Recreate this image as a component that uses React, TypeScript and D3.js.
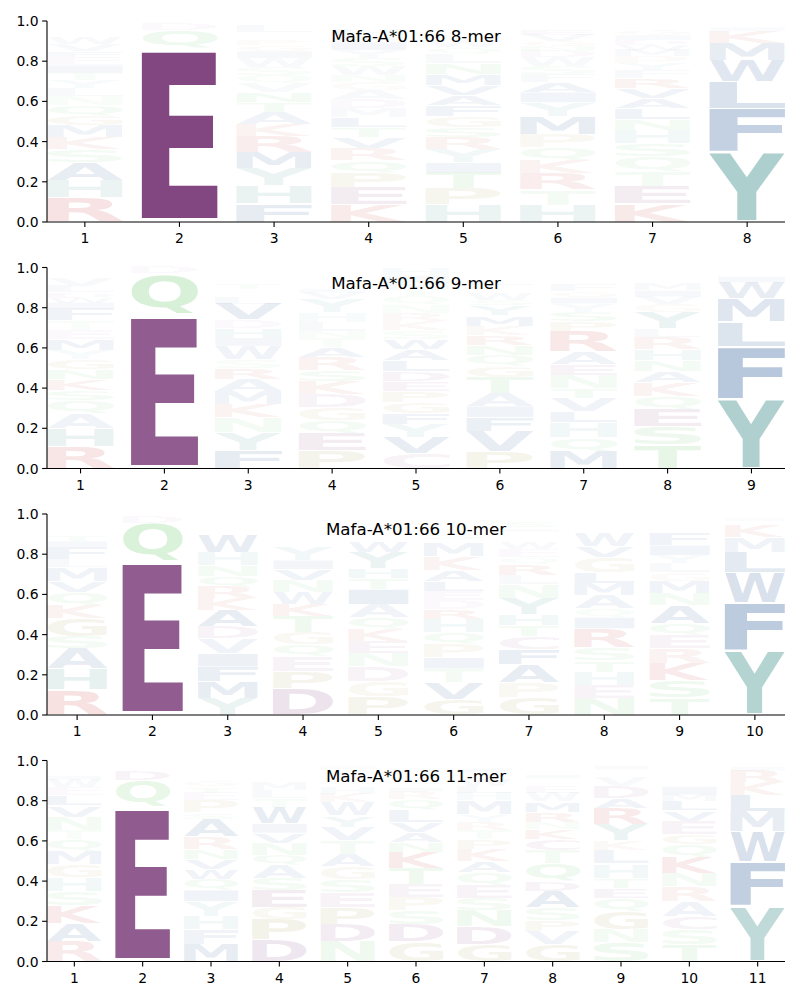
import React, { useMemo } from 'react';
import * as d3 from 'd3';

type Col = [string, number][];

// Each column lists letters bottom-to-top with their probability (height)
const mer8: Col[] = [
  [['R', .12], ['H', .085], ['A', .09], ['S', .065], ['K', .06], ['M', .06], ['G', .05], ['Q', .05], ['N', .045], ['L', .04], ['Y', .04], ['T', .035], ['I', .04], ['E', .04], ['F', .03], ['V', .035], ['W', .03], ['D', .02], ['C', .02], ['P', .02]],
  [['E', .865], ['Q', .09], ['D', .03], ['N', .005], ['S', .005], ['G', .005]],
  [['F', .09], ['H', .09], ['Y', .085], ['M', .08], ['R', .08], ['K', .06], ['A', .06], ['T', .05], ['N', .05], ['V', .045], ['Q', .04], ['S', .04], ['W', .045], ['I', .035], ['G', .03], ['P', .03], ['E', .02], ['D', .015], ['L', .03], ['C', .01]],
  [['K', .085], ['E', .085], ['P', .075], ['Q', .06], ['R', .06], ['V', .055], ['T', .05], ['L', .05], ['M', .045], ['D', .045], ['A', .045], ['G', .04], ['N', .035], ['W', .045], ['S', .04], ['Y', .04], ['I', .04], ['F', .03], ['H', .03], ['C', .02]],
  [['H', .085], ['P', .08], ['T', .08], ['I', .05], ['Y', .065], ['R', .06], ['S', .05], ['G', .055], ['F', .055], ['A', .05], ['V', .05], ['M', .055], ['N', .055], ['L', .045], ['Q', .035], ['W', .035], ['D', .02], ['E', .02], ['K', .02], ['C', .015]],
  [['H', .085], ['T', .075], ['R', .08], ['K', .065], ['Q', .065], ['P', .065], ['M', .09], ['Y', .07], ['I', .05], ['A', .05], ['F', .04], ['S', .04], ['W', .045], ['D', .03], ['N', .025], ['G', .025], ['V', .03], ['E', .025], ['L', .02], ['C', .01]],
  [['K', .09], ['E', .085], ['T', .075], ['Q', .075], ['S', .065], ['H', .065], ['N', .055], ['L', .055], ['A', .05], ['V', .05], ['R', .05], ['F', .04], ['Y', .035], ['P', .035], ['M', .03], ['W', .025], ['D', .025], ['I', .025], ['G', .025], ['C', .015]],
  [['Y', .35], ['F', .215], ['L', .135], ['W', .105], ['M', .085], ['K', .06], ['I', .02], ['V', .015], ['R', .01], ['H', .005]],
];

const mer9: Col[] = [
  [['R', .11], ['H', .09], ['A', .075], ['Q', .065], ['S', .05], ['K', .055], ['N', .05], ['G', .05], ['Y', .045], ['M', .055], ['E', .045], ['T', .045], ['F', .06], ['I', .03], ['W', .025], ['D', .025], ['L', .03], ['V', .04], ['P', .02], ['C', .01]],
  [['E', .765], ['Q', .205], ['D', .03]],
  [['F', .09], ['Y', .09], ['N', .075], ['K', .065], ['M', .065], ['A', .06], ['R', .055], ['S', .045], ['W', .065], ['I', .04], ['H', .05], ['D', .04], ['V', .08], ['L', .03], ['E', .02], ['Q', .02], ['T', .025], ['G', .02], ['C', .015], ['P', .01]],
  [['P', .09], ['E', .085], ['Q', .065], ['G', .065], ['D', .065], ['K', .065], ['S', .055], ['R', .065], ['A', .05], ['T', .045], ['N', .035], ['L', .045], ['H', .045], ['Y', .07], ['V', .03], ['I', .02], ['F', .02], ['M', .02], ['W', .015], ['C', .01]],
  [['C', .075], ['V', .08], ['Y', .065], ['F', .055], ['G', .055], ['P', .055], ['E', .05], ['D', .05], ['L', .055], ['A', .055], ['W', .05], ['S', .045], ['K', .045], ['R', .04], ['N', .04], ['Q', .04], ['T', .035], ['M', .035], ['I', .035], ['H', .03]],
  [['P', .085], ['V', .1], ['F', .07], ['I', .055], ['A', .065], ['T', .08], ['G', .055], ['Q', .055], ['N', .05], ['R', .05], ['K', .045], ['M', .05], ['Y', .05], ['S', .03], ['W', .03], ['E', .02], ['D', .02], ['L', .025], ['H', .015], ['C', .01]],
  [['M', .085], ['Q', .07], ['H', .075], ['L', .055], ['V', .065], ['T', .05], ['N', .065], ['E', .055], ['A', .06], ['R', .1], ['P', .05], ['S', .05], ['Y', .04], ['I', .03], ['G', .03], ['F', .03], ['W', .02], ['K', .02], ['D', .02], ['C', .01]],
  [['T', .12], ['S', .09], ['E', .085], ['Q', .065], ['K', .07], ['A', .055], ['N', .055], ['H', .055], ['R', .06], ['L', .04], ['Y', .08], ['G', .04], ['V', .04], ['I', .03], ['M', .03], ['P', .02], ['F', .02], ['W', .02], ['D', .015], ['C', .01]],
  [['Y', .345], ['F', .26], ['L', .125], ['M', .115], ['W', .08], ['I', .03], ['V', .02], ['K', .01], ['H', .01], ['R', .005]],
];

const mer10: Col[] = [
  [['R', .125], ['H', .105], ['A', .1], ['S', .06], ['G', .09], ['K', .065], ['Q', .065], ['V', .055], ['M', .07], ['L', .04], ['F', .06], ['I', .03], ['T', .03], ['N', .02], ['W', .02], ['D', .02], ['Y', .02], ['P', .015], ['C', .01]],
  [['E', .765], ['Q', .19], ['D', .035], ['N', .01]],
  [['Y', .085], ['M', .08], ['F', .075], ['I', .065], ['V', .075], ['D', .06], ['A', .08], ['K', .06], ['R', .06], ['Q', .05], ['N', .055], ['H', .065], ['W', .085], ['T', .02], ['S', .02], ['L', .02], ['G', .015], ['E', .015], ['P', .01], ['C', .01]],
  [['D', .13], ['P', .085], ['E', .075], ['Q', .06], ['G', .06], ['T', .08], ['K', .06], ['W', .06], ['N', .06], ['V', .055], ['I', .045], ['Y', .07], ['M', .02], ['S', .02], ['A', .02], ['R', .02], ['L', .02], ['H', .01], ['F', .01], ['C', .01]],
  [['P', .09], ['G', .075], ['D', .075], ['N', .065], ['E', .06], ['K', .06], ['Q', .06], ['A', .065], ['I', .075], ['T', .055], ['H', .05], ['Y', .08], ['W', .055], ['R', .02], ['S', .02], ['M', .02], ['L', .02], ['F', .015], ['V', .015], ['C', .01]],
  [['G', .08], ['V', .08], ['T', .07], ['I', .055], ['P', .065], ['Q', .06], ['H', .065], ['R', .05], ['D', .045], ['E', .045], ['L', .05], ['A', .055], ['K', .07], ['M', .065], ['N', .02], ['S', .025], ['F', .02], ['W', .02], ['Y', .015], ['C', .01]],
  [['G', .085], ['P', .075], ['A', .09], ['F', .075], ['C', .065], ['T', .055], ['H', .055], ['Y', .08], ['N', .07], ['L', .045], ['R', .055], ['Q', .035], ['E', .04], ['W', .03], ['M', .02], ['K', .02], ['D', .015], ['I', .015], ['V', .01], ['S', .03]],
  [['N', .085], ['E', .065], ['H', .065], ['T', .055], ['S', .065], ['R', .095], ['I', .055], ['Q', .045], ['A', .065], ['M', .06], ['L', .055], ['G', .075], ['V', .055], ['W', .07], ['Y', .02], ['F', .02], ['D', .015], ['P', .015], ['K', .01], ['C', .01]],
  [['T', .085], ['S', .085], ['K', .085], ['R', .075], ['E', .065], ['Q', .06], ['A', .09], ['N', .06], ['M', .06], ['G', .045], ['L', .045], ['Y', .04], ['I', .05], ['F', .06], ['W', .02], ['V', .02], ['H', .02], ['P', .015], ['D', .01], ['C', .01]],
  [['Y', .32], ['F', .24], ['W', .15], ['L', .1], ['M', .075], ['K', .06], ['R', .02], ['I', .015], ['V', .01], ['H', .01]],
];

const mer11: Col[] = [
  [['R', .1], ['A', .09], ['K', .09], ['S', .07], ['H', .07], ['G', .065], ['M', .065], ['Q', .06], ['T', .045], ['N', .065], ['V', .055], ['L', .05], ['E', .04], ['W', .04], ['I', .02], ['F', .02], ['Y', .02], ['D', .015], ['P', .01], ['C', .01]],
  [['E', .77], ['Q', .13], ['D', .05], ['N', .015], ['S', .01], ['G', .01], ['T', .01]],
  [['M', .085], ['F', .075], ['H', .065], ['Y', .075], ['I', .055], ['Q', .055], ['W', .05], ['V', .05], ['N', .05], ['R', .06], ['A', .09], ['S', .03], ['P', .06], ['E', .04], ['T', .03], ['G', .03], ['D', .02], ['K', .02], ['L', .02], ['C', .01]],
  [['D', .11], ['P', .1], ['G', .06], ['E', .085], ['S', .06], ['A', .065], ['Q', .05], ['N', .06], ['V', .05], ['I', .045], ['W', .08], ['T', .045], ['L', .04], ['M', .04], ['H', .02], ['K', .02], ['R', .02], ['F', .015], ['Y', .015], ['C', .01]],
  [['N', .1], ['D', .085], ['P', .085], ['E', .075], ['S', .065], ['G', .065], ['A', .06], ['T', .07], ['V', .065], ['Y', .055], ['W', .065], ['K', .045], ['H', .03], ['L', .02], ['M', .02], ['Q', .02], ['R', .02], ['F', .015], ['I', .015], ['C', .01]],
  [['G', .1], ['D', .085], ['S', .07], ['P', .065], ['E', .065], ['T', .08], ['K', .08], ['N', .05], ['A', .05], ['V', .05], ['L', .06], ['Q', .05], ['R', .04], ['I', .02], ['M', .02], ['Y', .02], ['F', .015], ['H', .015], ['W', .01], ['C', .01]],
  [['G', .085], ['D', .09], ['N', .08], ['S', .06], ['E', .065], ['Q', .065], ['A', .055], ['K', .06], ['P', .05], ['T', .045], ['R', .04], ['Y', .035], ['M', .07], ['H', .04], ['L', .03], ['W', .03], ['F', .02], ['V', .02], ['I', .02], ['C', .01]],
  [['G', .085], ['V', .065], ['P', .055], ['S', .065], ['A', .08], ['D', .05], ['Q', .09], ['T', .065], ['C', .055], ['K', .05], ['N', .035], ['R', .05], ['M', .05], ['W', .045], ['E', .03], ['F', .02], ['H', .02], ['I', .02], ['Y', .015], ['L', .015]],
  [['S', .095], ['N', .065], ['G', .09], ['Q', .065], ['E', .05], ['T', .05], ['H', .065], ['C', .01], ['L', .065], ['K', .045], ['Y', .08], ['R', .08], ['A', .05], ['D', .06], ['V', .045], ['M', .02], ['W', .02], ['I', .02], ['F', .015], ['P', .01]],
  [['T', .085], ['S', .075], ['C', .065], ['A', .075], ['R', .075], ['N', .065], ['K', .08], ['Q', .065], ['G', .05], ['E', .065], ['V', .05], ['L', .05], ['M', .03], ['I', .04], ['Y', .02], ['F', .02], ['W', .015], ['H', .015], ['D', .01], ['P', .01]],
  [['Y', .275], ['F', .22], ['W', .15], ['M', .1], ['L', .08], ['K', .065], ['R', .06], ['I', .02], ['V', .015], ['H', .01], ['Q', .005]],
];

const titles = ['Mafa-A*01:66 8-mer', 'Mafa-A*01:66 9-mer', 'Mafa-A*01:66 10-mer', 'Mafa-A*01:66 11-mer'];
const panelData = [mer8, mer9, mer10, mer11];
const yTicks = [0, 0.2, 0.4, 0.6, 0.8, 1.0];

const COLOR: Record<string, string> = {
  D: '#82467f', E: '#82467f',
  H: '#348984', Y: '#348984',
  A: '#0f438b', V: '#0f438b', I: '#0f438b', L: '#0f438b', M: '#0f438b', F: '#0f438b', W: '#0f438b',
  S: '#55bf55', T: '#55bf55', N: '#55bf55', Q: '#55bf55',
  K: '#c83232', R: '#c83232',
  G: '#a09640', P: '#a09640',
  C: '#9a4a8a',
};

const FONT = 'DejaVu Sans';
const LEFT = 47, RIGHT = 785, PH = 201;
const TOPS = [21, 267.5, 514, 760.5];

type Metric = { l: number; r: number; a: number; d: number };

function measureGlyphs(): Record<string, Metric> {
  const out: Record<string, Metric> = {};
  const letters = 'ACDEFGHIKLMNPQRSTVWY';
  let ctx: CanvasRenderingContext2D | null = null;
  try {
    ctx = document.createElement('canvas').getContext('2d');
  } catch (e) { ctx = null; }
  for (const ch of letters) {
    if (ctx) {
      ctx.font = `bold 100px "${FONT}"`;
      const m = ctx.measureText(ch);
      if (m.actualBoundingBoxAscent !== undefined) {
        out[ch] = { l: m.actualBoundingBoxLeft, r: m.actualBoundingBoxRight, a: m.actualBoundingBoxAscent, d: m.actualBoundingBoxDescent };
        continue;
      }
      out[ch] = { l: 0, r: m.width, a: 73, d: 0 };
    } else {
      out[ch] = { l: 0, r: 70, a: 73, d: 0 };
    }
  }
  return out;
}

function Panel({ idx, metrics }: { idx: number; metrics: Record<string, Metric> }) {
  const cols = panelData[idx];
  const n = cols.length;
  const top = TOPS[idx];
  const x = d3.scaleLinear().domain([0.6, n + 0.4]).range([LEFT, RIGHT]);
  const y = d3.scaleLinear().domain([0, 1]).range([top + PH, top]);
  const step = x(2) - x(1);
  const bw = 0.8 * step;
  const glyphs: JSX.Element[] = [];
  cols.forEach((col, i) => {
    let floor = 0;
    col.forEach(([ch, h], j) => {
      const pad = 0.025 * h;
      const yTop = y(floor + h - pad);
      const yBot = y(floor + pad);
      floor += h;
      const gh = yBot - yTop;
      const X = x(i + 1) - bw / 2;
      const m = metrics[ch];
      const sx = bw / (m.l + m.r);
      const sy = gh / (m.a + m.d);
      const alpha = Math.min(1, h * 1.15);
      glyphs.push(
        <text
          key={`${i}-${j}`}
          x={0}
          y={0}
          fontFamily={FONT}
          fontWeight="bold"
          fontSize={100}
          fill={COLOR[ch]}
          fillOpacity={alpha}
          transform={`translate(${X},${yTop}) scale(${sx},${sy}) translate(${m.l},${m.a})`}
        >
          {ch}
        </text>
      );
    });
  });
  const y0 = top + PH;
  const tickLen = 4.9;
  return (
    <g>
      {glyphs}
      <line x1={LEFT} x2={LEFT} y1={top} y2={y0} stroke="#000" strokeWidth={1.1} />
      <line x1={LEFT} x2={RIGHT} y1={y0} y2={y0} stroke="#000" strokeWidth={1.1} />
      {yTicks.map((t) => (
        <g key={`y${t}`}>
          <line x1={LEFT - tickLen} x2={LEFT} y1={y(t)} y2={y(t)} stroke="#000" strokeWidth={1.1} />
          <text x={LEFT - tickLen - 3.5} y={y(t) + 5} textAnchor="end" fontSize={13.9} fontFamily={FONT} fill="#000">
            {t.toFixed(1)}
          </text>
        </g>
      ))}
      {cols.map((_, i) => (
        <g key={`x${i}`}>
          <line x1={x(i + 1)} x2={x(i + 1)} y1={y0} y2={y0 + tickLen} stroke="#000" strokeWidth={1.1} />
          <text x={x(i + 1)} y={y0 + 21} textAnchor="middle" fontSize={13.9} fontFamily={FONT} fill="#000">
            {i + 1}
          </text>
        </g>
      ))}
      <text x={(LEFT + RIGHT) / 2} y={top + 21} textAnchor="middle" fontSize={16.7} fontFamily={FONT} fill="#000">
        {titles[idx]}
      </text>
    </g>
  );
}

export default function App() {
  const metrics = useMemo(() => measureGlyphs(), []);
  return (
    <svg width={800} height={1000} style={{ position: 'absolute', left: 0, top: 0, background: '#fff' }}>
      <rect x={0} y={0} width={800} height={1000} fill="#fff" />
      {panelData.map((_, i) => (
        <Panel key={i} idx={i} metrics={metrics} />
      ))}
    </svg>
  );
}
